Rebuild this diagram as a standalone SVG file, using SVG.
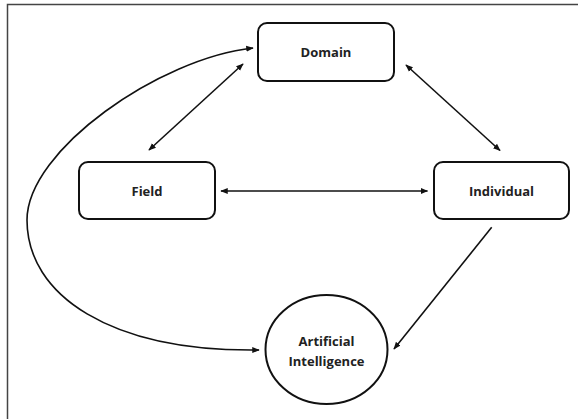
<svg xmlns="http://www.w3.org/2000/svg" width="578" height="419" viewBox="0 0 578 419">
<style>
.box{fill:#fff;stroke:#111;stroke-width:2}
.lbl{font-family:"Open Sans","Liberation Sans",sans-serif;font-weight:bold;font-size:13px;fill:#222;text-anchor:middle}
.con{fill:none;stroke:#111;stroke-width:1.6}
</style>
<defs>
<marker id="ah" viewBox="0 0 10 10" refX="9" refY="5" markerWidth="7.5" markerHeight="7.5" markerUnits="userSpaceOnUse" orient="auto-start-reverse">
<path d="M0,1 L10,5 L0,9 Z" fill="#111"/>
</marker>
</defs>
<rect width="578" height="419" fill="#fff"/>
<path d="M7.5,419 V4.5 H578" fill="none" stroke="#444" stroke-width="1.5"/>
<g id="connectors">
<line class="con" x1="149" y1="150" x2="243" y2="64" marker-start="url(#ah)" marker-end="url(#ah)"/>
<line class="con" x1="406" y1="65" x2="500" y2="150.5" marker-start="url(#ah)" marker-end="url(#ah)"/>
<line class="con" x1="221" y1="191" x2="427.5" y2="191" marker-start="url(#ah)" marker-end="url(#ah)"/>
<line class="con" x1="491.7" y1="227.3" x2="394" y2="349" marker-end="url(#ah)"/>
<path class="con" d="M253,48 C160,58 27,150 27,220 C27,295 110,352 259,350" marker-start="url(#ah)" marker-end="url(#ah)"/>
</g>
<g id="domain">
<rect class="box" x="258" y="23" width="136" height="58" rx="9"/>
<text class="lbl" x="326" y="57">Domain</text>
</g>
<g id="field">
<rect class="box" x="79" y="162" width="136" height="57" rx="9"/>
<text class="lbl" x="147" y="195.5">Field</text>
</g>
<g id="individual">
<rect class="box" x="434" y="162" width="135" height="57" rx="9"/>
<text class="lbl" x="501.5" y="195.5">Individual</text>
</g>
<g id="ai">
<ellipse class="box" cx="326.5" cy="349.5" rx="61" ry="54.5"/>
<text class="lbl" x="326.5" y="345.5">Artificial</text>
<text class="lbl" x="326.5" y="366">Intelligence</text>
</g>
</svg>
